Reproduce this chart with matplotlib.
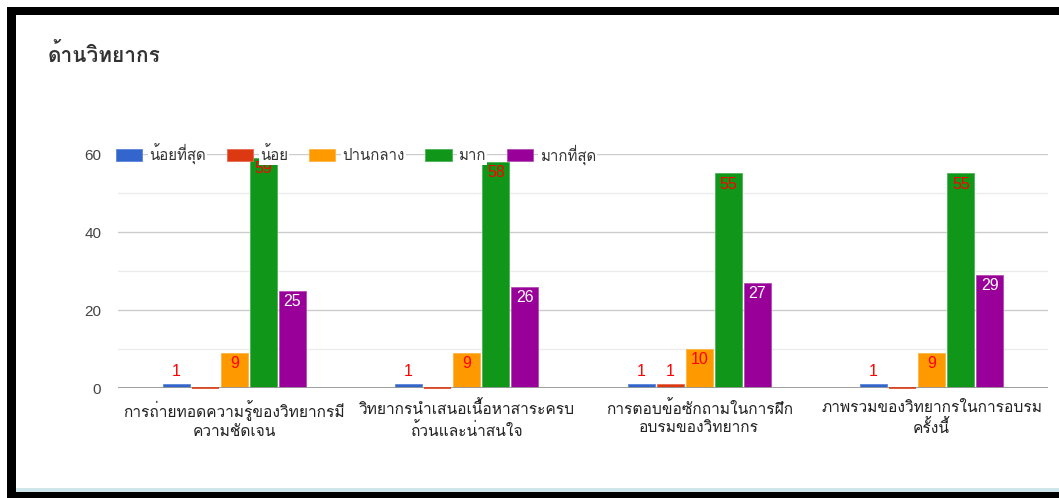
import matplotlib
matplotlib.use("Agg")
import matplotlib.pyplot as plt
from matplotlib import font_manager
from matplotlib.ft2font import FT2Font
from matplotlib.patches import Rectangle
import numpy as np

# ข้อมูลของกราฟ
title = "ด้านวิทยากร"
categories = [
    "การถ่ายทอดความรู้ของวิทยากรมี\nความชัดเจน",
    "วิทยากรนำเสนอเนื้อหาสาระครบ\nถ้วนและน่าสนใจ",
    "การตอบข้อซักถามในการฝึก\nอบรมของวิทยากร",
    "ภาพรวมของวิทยากรในการอบรม\nครั้งนี้",
]
series_names = ["น้อยที่สุด", "น้อย", "ปานกลาง", "มาก", "มากที่สุด"]
least = [1, 1, 1, 1]
little = [0, 0, 1, 0]
medium = [9, 9, 10, 9]
much = [59, 58, 55, 55]
most = [25, 26, 27, 29]
yticks = [0, 20, 40, 60]

colors = ["#3366cc", "#dc3912", "#ff9900", "#109618", "#990099"]
edge_colors = ["#5a85d9", "#e66a4f", "#ffb340", "#4cb357", "#b34db3"]
label_colors = ["red", "red", "red", "red", "white"]


# หาฟอนต์ที่มีอักษรไทย
def find_thai_font():
    for f in font_manager.fontManager.ttflist:
        try:
            if 0x0E01 in FT2Font(f.fname).get_charmap() and f.weight in ("normal", 400, "regular"):
                return f.name
        except Exception:
            pass
    for f in font_manager.fontManager.ttflist:
        try:
            if 0x0E01 in FT2Font(f.fname).get_charmap():
                return f.name
        except Exception:
            pass
    return "DejaVu Sans"


thai = find_thai_font()
plt.rcParams["font.family"] = ["Liberation Sans", thai, "DejaVu Sans"]

W, H = 1059, 498
fig = plt.figure(figsize=(W / 100, H / 100), dpi=100)


def px_rect(x0, y0, x1, y1, color):
    # สี่เหลี่ยมในพิกัดพิกเซล (วัดจากมุมบนซ้าย)
    fig.add_artist(Rectangle((x0 / W, 1 - y1 / H), (x1 - x0) / W, (y1 - y0) / H,
                             transform=fig.transFigure, color=color, lw=0))


# กรอบดำรอบภาพ
px_rect(7, 7, W, 15, "black")
px_rect(7, 7, 16, H, "black")
px_rect(16, 488, W, 492, "#cfe6ea")
px_rect(7, 492, W, H, "black")

ax = fig.add_axes([118 / W, 110 / H, 930 / W, 234 / H])

values = [least, little, medium, much, most]
x = np.arange(len(categories))
step = 29 / 232
bw = 27 / 232
for i, (name, vals) in enumerate(zip(series_names, values)):
    pos = x + (i - 2) * step
    ax.bar(pos, vals, bw, color=colors[i], label=name, zorder=3,
           edgecolor=edge_colors[i], linewidth=0.6)
    for p, v in zip(pos, vals):
        if v == 0:
            # แท่งค่าศูนย์แสดงเป็นเส้นบาง ๆ
            ax.plot([p - bw / 2, p + bw / 2], [v, v], color=colors[i], lw=1.2,
                    zorder=6, solid_capstyle="butt", clip_on=False)
            continue
        if v >= 5:
            ax.annotate(str(v), (p, v), xytext=(0, -2.5), textcoords="offset points",
                        ha="center", va="top", fontsize=11.5, color=label_colors[i],
                        family="Liberation Sans", zorder=4)
        else:
            ax.annotate(str(v), (p, v), xytext=(0, 4), textcoords="offset points",
                        ha="center", va="bottom", fontsize=11.5, color="red",
                        family="Liberation Sans", zorder=4)

ax.set_xlim(-0.5, 3.5)
ax.set_ylim(0, 60)
ax.set_yticks(yticks)
ax.set_yticks([10, 30, 50], minor=True)
ax.grid(axis="y", which="major", color="#cccccc", lw=1, zorder=0)
ax.grid(axis="y", which="minor", color="#ebebeb", lw=1, zorder=0)
ax.axhline(0, color="#999999", lw=1.3, zorder=5)
for s in ax.spines.values():
    s.set_visible(False)
ax.tick_params(axis="both", which="both", length=0)
ax.tick_params(axis="y", pad=12, labelsize=11, labelcolor="#444444")
ax.set_xticks(x)
ax.set_xticklabels(categories, fontsize=11.2, color="#222222", linespacing=1.35,
                   family=[thai, "DejaVu Sans"])
ax.tick_params(axis="x", pad=9)

leg = ax.legend(loc="center left", bbox_to_anchor=(-0.002, 1), ncol=5, frameon=False,
                prop={"family": [thai, "DejaVu Sans"], "size": 10.8},
                handlelength=1.75, handleheight=0.85, handletextpad=0.45,
                columnspacing=1.4, borderaxespad=0, borderpad=0)
for t in leg.get_texts():
    t.set_color("#333333")
    t.set_bbox(dict(facecolor="white", edgecolor="none", pad=1))

fig.text(48 / W, 1 - 55 / H, title, fontsize=15, fontweight="bold", color="#333333",
         va="center", ha="left", family=[thai, "DejaVu Sans"])

fig.savefig("out.png", dpi=100)
